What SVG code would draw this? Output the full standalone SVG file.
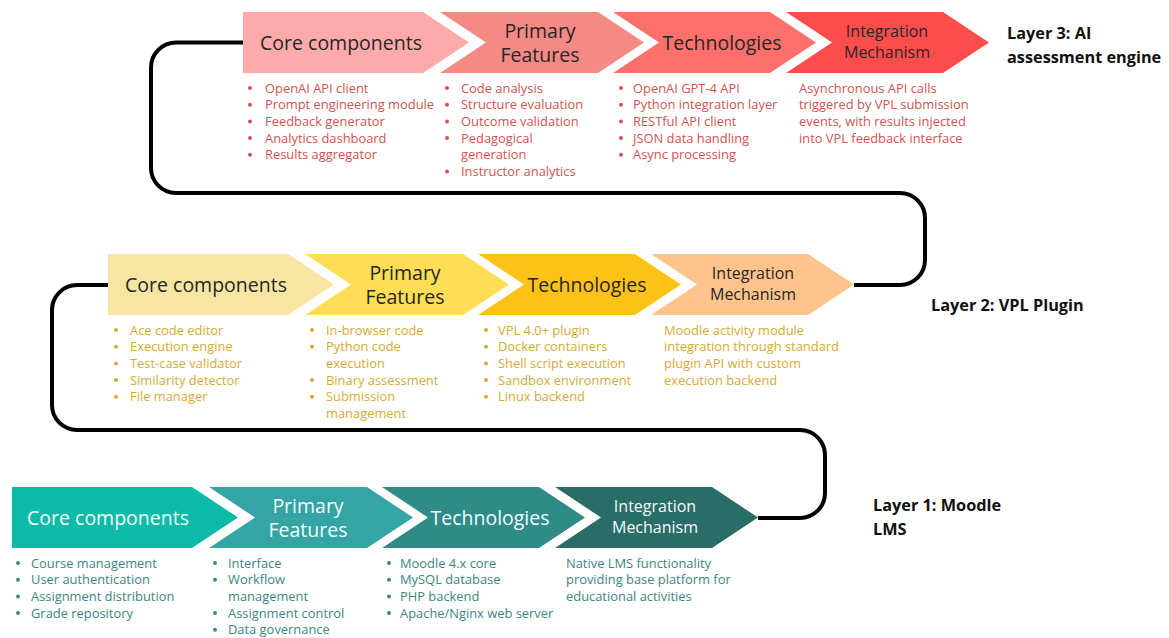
<svg xmlns="http://www.w3.org/2000/svg" width="1169" height="638" viewBox="0 0 1169 638">
  <style>
    .title { font-family: "Open Sans", "Noto Sans", sans-serif; font-size: 19.5px; text-anchor: middle; }
    .title-sm { font-family: "Open Sans", "Noto Sans", sans-serif; font-size: 16px; text-anchor: middle; }
    .dark { fill: #262626; }
    .light { fill: #f2fbfa; }
    .list { font-family: "Open Sans", "Noto Sans", sans-serif; font-size: 12.9px; }
    .red { fill: #d3534f; }
    .gold { fill: #d8aa35; }
    .teal { fill: #3b8685; }
    .layer { font-family: "Open Sans", "Noto Sans", sans-serif; font-size: 16.3px; font-weight: 700; fill: #111; }
    .link { fill: none; stroke: #000; stroke-width: 4; stroke-linecap: butt; }
  </style>
  <defs>
    <!-- chevron outlines in row-local coordinates (row height 61) -->
    <path id="chev-first" d="M0,0 H180 L226,30.5 L180,61 H0 Z"/>
    <path id="chev-2" d="M197,0 H355 L401,30.5 L355,61 H197 L243,30.5 Z"/>
    <path id="chev-3" d="M370,0 H527 L573,30.5 L527,61 H370 L416,30.5 Z"/>
    <path id="chev-4" d="M543,0 H700 L746,30.5 L700,61 H543 L589,30.5 Z"/>
    <!-- list bullet dot -->
    <circle id="dot" r="2"/>
  </defs>
  <rect width="1169" height="638" fill="#fff"/>

  <!-- connectors between the layers -->
  <g id="connectors">
    <path class="link" d="M243,42.5 H176 A25,25 0 0 0 151,67.5 V168 A25,25 0 0 0 176,193 H900 A25,25 0 0 1 925,218 V260 A25,25 0 0 1 900,285 H854"/>
    <path class="link" d="M108,285 H77 A25,25 0 0 0 52,310 V405 A25,25 0 0 0 77,430 H800 A25,25 0 0 1 825,455 V493 A25,25 0 0 1 800,518 H758"/>
  </g>

  <!-- Layer 3: AI assessment engine -->
  <g id="layer3" transform="translate(243,12)">
    <g id="l3-core">
      <use href="#chev-first" fill="#ffaaaa"/>
      <text class="title dark" x="98" y="37.5">Core components</text>
      <g class="red">
        <use href="#dot" x="7" y="76"/><use href="#dot" x="7" y="92.7"/><use href="#dot" x="7" y="109.4"/>
        <use href="#dot" x="7" y="126.1"/><use href="#dot" x="7" y="142.8"/>
      </g>
      <text class="list red">
        <tspan x="22" y="80.5">OpenAI API client</tspan>
        <tspan x="22" y="97.2">Prompt engineering module</tspan>
        <tspan x="22" y="113.9">Feedback generator</tspan>
        <tspan x="22" y="130.6">Analytics dashboard</tspan>
        <tspan x="22" y="147.3">Results aggregator</tspan>
      </text>
    </g>
    <g id="l3-features">
      <use href="#chev-2" fill="#f58984"/>
      <text class="title dark" x="297" y="25.5">Primary</text>
      <text class="title dark" x="297" y="50">Features</text>
      <g class="red">
        <use href="#dot" x="204" y="76"/><use href="#dot" x="204" y="92.7"/><use href="#dot" x="204" y="109.4"/>
        <use href="#dot" x="204" y="126.1"/><use href="#dot" x="204" y="159.5"/>
      </g>
      <text class="list red">
        <tspan x="218" y="80.5">Code analysis</tspan>
        <tspan x="218" y="97.2">Structure evaluation</tspan>
        <tspan x="218" y="113.9">Outcome validation</tspan>
        <tspan x="218" y="130.6">Pedagogical</tspan>
        <tspan x="218" y="147.3">generation</tspan>
        <tspan x="218" y="164">Instructor analytics</tspan>
      </text>
    </g>
    <g id="l3-tech">
      <use href="#chev-3" fill="#ff6f6b"/>
      <text class="title dark" x="479" y="37.5">Technologies</text>
      <g class="red">
        <use href="#dot" x="378" y="76"/><use href="#dot" x="378" y="92.7"/><use href="#dot" x="378" y="109.4"/>
        <use href="#dot" x="378" y="126.1"/><use href="#dot" x="378" y="142.8"/>
      </g>
      <text class="list red">
        <tspan x="390" y="80.5">OpenAI GPT-4 API</tspan>
        <tspan x="390" y="97.2">Python integration layer</tspan>
        <tspan x="390" y="113.9">RESTful API client</tspan>
        <tspan x="390" y="130.6">JSON data handling</tspan>
        <tspan x="390" y="147.3">Async processing</tspan>
      </text>
    </g>
    <g id="l3-integration">
      <use href="#chev-4" fill="#ff4d4d"/>
      <text class="title-sm dark" x="644" y="24.5">Integration</text>
      <text class="title-sm dark" x="644" y="45.5">Mechanism</text>
      <text class="list red">
        <tspan x="556" y="80.5">Asynchronous API calls</tspan>
        <tspan x="556" y="97.2">triggered by VPL submission</tspan>
        <tspan x="556" y="113.9">events, with results injected</tspan>
        <tspan x="556" y="130.6">into VPL feedback interface</tspan>
      </text>
    </g>
  </g>
  <g id="label-layer3">
    <text class="layer" x="1007" y="39">Layer 3: AI</text>
    <text class="layer" x="1007" y="63">assessment engine</text>
  </g>

  <!-- Layer 2: VPL Plugin -->
  <g id="layer2" transform="translate(108,254)">
    <g id="l2-core">
      <use href="#chev-first" fill="#f7e5a1"/>
      <text class="title dark" x="98" y="37.5">Core components</text>
      <g class="gold">
        <use href="#dot" x="8" y="76"/><use href="#dot" x="8" y="92.7"/><use href="#dot" x="8" y="109.4"/>
        <use href="#dot" x="8" y="126.1"/><use href="#dot" x="8" y="142.8"/>
      </g>
      <text class="list gold">
        <tspan x="22" y="80.5">Ace code editor</tspan>
        <tspan x="22" y="97.2">Execution engine</tspan>
        <tspan x="22" y="113.9">Test-case validator</tspan>
        <tspan x="22" y="130.6">Similarity detector</tspan>
        <tspan x="22" y="147.3">File manager</tspan>
      </text>
    </g>
    <g id="l2-features">
      <use href="#chev-2" fill="#ffdd55"/>
      <text class="title dark" x="297" y="25.5">Primary</text>
      <text class="title dark" x="297" y="50">Features</text>
      <g class="gold">
        <use href="#dot" x="204" y="76"/><use href="#dot" x="204" y="92.7"/>
        <use href="#dot" x="204" y="126.1"/><use href="#dot" x="204" y="142.8"/>
      </g>
      <text class="list gold">
        <tspan x="218" y="80.5">In-browser code</tspan>
        <tspan x="218" y="97.2">Python code</tspan>
        <tspan x="218" y="113.9">execution</tspan>
        <tspan x="218" y="130.6">Binary assessment</tspan>
        <tspan x="218" y="147.3">Submission</tspan>
        <tspan x="218" y="164">management</tspan>
      </text>
    </g>
    <g id="l2-tech">
      <use href="#chev-3" fill="#fcc216"/>
      <text class="title dark" x="479" y="37.5">Technologies</text>
      <g class="gold">
        <use href="#dot" x="378" y="76"/><use href="#dot" x="378" y="92.7"/><use href="#dot" x="378" y="109.4"/>
        <use href="#dot" x="378" y="126.1"/><use href="#dot" x="378" y="142.8"/>
      </g>
      <text class="list gold">
        <tspan x="390" y="80.5">VPL 4.0+ plugin</tspan>
        <tspan x="390" y="97.2">Docker containers</tspan>
        <tspan x="390" y="113.9">Shell script execution</tspan>
        <tspan x="390" y="130.6">Sandbox environment</tspan>
        <tspan x="390" y="147.3">Linux backend</tspan>
      </text>
    </g>
    <g id="l2-integration">
      <use href="#chev-4" fill="#ffc48b"/>
      <text class="title-sm dark" x="645" y="24.5">Integration</text>
      <text class="title-sm dark" x="645" y="45.5">Mechanism</text>
      <text class="list gold">
        <tspan x="556" y="80.5">Moodle activity module</tspan>
        <tspan x="556" y="97.2">integration through standard</tspan>
        <tspan x="556" y="113.9">plugin API with custom</tspan>
        <tspan x="556" y="130.6">execution backend</tspan>
      </text>
    </g>
  </g>
  <g id="label-layer2">
    <text class="layer" x="931" y="311">Layer 2: VPL Plugin</text>
  </g>

  <!-- Layer 1: Moodle LMS -->
  <g id="layer1" transform="translate(12,487)">
    <g id="l1-core">
      <use href="#chev-first" fill="#0bbba8"/>
      <text class="title light" x="96" y="37.5">Core components</text>
      <g class="teal">
        <use href="#dot" x="6" y="76"/><use href="#dot" x="6" y="92.7"/>
        <use href="#dot" x="6" y="109.4"/><use href="#dot" x="6" y="126.1"/>
      </g>
      <text class="list teal">
        <tspan x="19" y="80.5">Course management</tspan>
        <tspan x="19" y="97.2">User authentication</tspan>
        <tspan x="19" y="113.9">Assignment distribution</tspan>
        <tspan x="19" y="130.6">Grade repository</tspan>
      </text>
    </g>
    <g id="l1-features">
      <use href="#chev-2" fill="#35a4a4"/>
      <text class="title light" x="296" y="25.5">Primary</text>
      <text class="title light" x="296" y="50">Features</text>
      <g class="teal">
        <use href="#dot" x="203" y="76"/><use href="#dot" x="203" y="92.7"/>
        <use href="#dot" x="203" y="126.1"/><use href="#dot" x="203" y="142.8"/>
      </g>
      <text class="list teal">
        <tspan x="216" y="80.5">Interface</tspan>
        <tspan x="216" y="97.2">Workflow</tspan>
        <tspan x="216" y="113.9">management</tspan>
        <tspan x="216" y="130.6">Assignment control</tspan>
        <tspan x="216" y="147.3">Data governance</tspan>
      </text>
    </g>
    <g id="l1-tech">
      <use href="#chev-3" fill="#2f8b88"/>
      <text class="title light" x="478" y="37.5">Technologies</text>
      <g class="teal">
        <use href="#dot" x="377" y="76"/><use href="#dot" x="377" y="92.7"/>
        <use href="#dot" x="377" y="109.4"/><use href="#dot" x="377" y="126.1"/>
      </g>
      <text class="list teal">
        <tspan x="388" y="80.5">Moodle 4.x core</tspan>
        <tspan x="388" y="97.2">MySQL database</tspan>
        <tspan x="388" y="113.9">PHP backend</tspan>
        <tspan x="388" y="130.6">Apache/Nginx web server</tspan>
      </text>
    </g>
    <g id="l1-integration">
      <use href="#chev-4" fill="#2a6d68"/>
      <text class="title-sm light" x="643" y="24.5">Integration</text>
      <text class="title-sm light" x="643" y="45.5">Mechanism</text>
      <text class="list teal">
        <tspan x="554" y="80.5">Native LMS functionality</tspan>
        <tspan x="554" y="97.2">providing base platform for</tspan>
        <tspan x="554" y="113.9">educational activities</tspan>
      </text>
    </g>
  </g>
  <g id="label-layer1">
    <text class="layer" x="873" y="511">Layer 1: Moodle</text>
    <text class="layer" x="873" y="535">LMS</text>
  </g>
</svg>
